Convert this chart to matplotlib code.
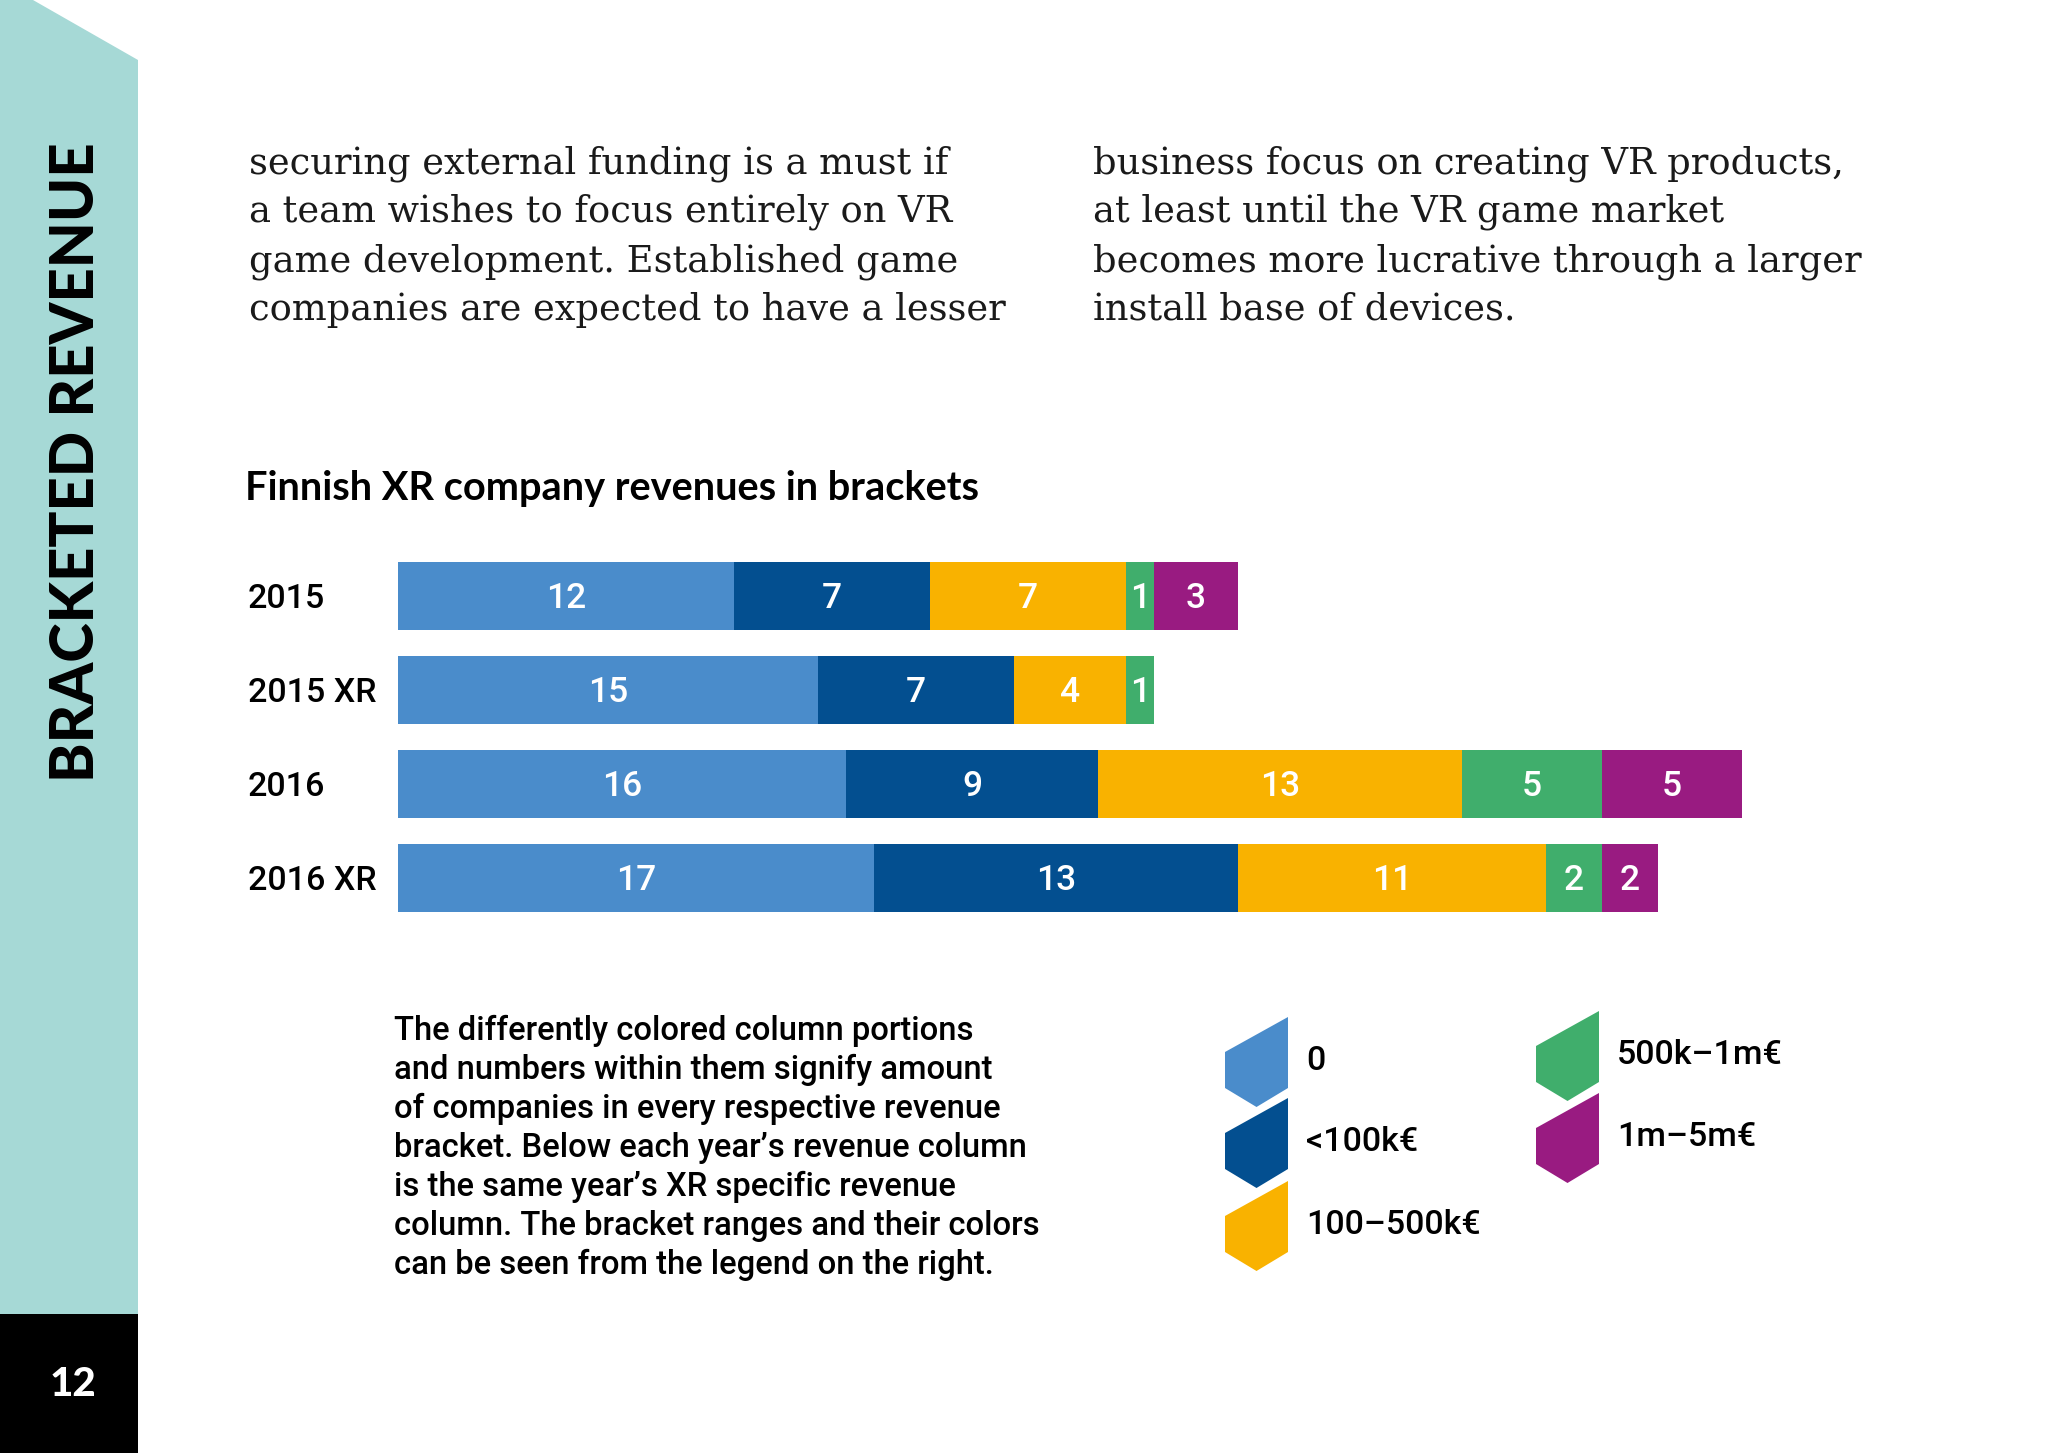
import matplotlib.pyplot as plt
from matplotlib.patches import Polygon, Rectangle

# --- data ---
years = ['2015', '2015 XR', '2016', '2016 XR']
brackets = ['0', '<100k€', '100–500k€', '500k–1m€', '1m–5m€']
rev_zero = [12, 15, 16, 17]
rev_under_100k = [7, 7, 9, 13]
rev_100k_500k = [7, 4, 13, 11]
rev_500k_1m = [1, 1, 5, 2]
rev_1m_5m = [3, 0, 5, 2]
colours = ['#4a8ccb', '#034f90', '#f9b200', '#40ae6c', '#991b81']

left_text = ['securing external funding is a must if',
             'a team wishes to focus entirely on VR',
             'game development. Established game',
             'companies are expected to have a lesser']
right_text = ['business focus on creating VR products,',
              'at least until the VR game market',
              'becomes more lucrative through a larger',
              'install base of devices.']
note_text = ['The differently colored column portions',
             'and numbers within them signify amount',
             'of companies in every respective revenue',
             'bracket. Below each year\u2019s revenue column',
             'is the same year\u2019s XR specific revenue',
             'column. The bracket ranges and their colors',
             'can be seen from the legend on the right.']

SANS = dict(family=['Roboto', 'DejaVu Sans'], fontweight='medium')
W, H = 2048, 1453

fig = plt.figure(figsize=(20.48, 14.53), dpi=100)
fig.patch.set_facecolor('white')

# page layer in pixel coords
bg = fig.add_axes([0, 0, 1, 1])
bg.set_xlim(0, W)
bg.set_ylim(H, 0)
bg.axis('off')

# sidebar
bg.add_patch(Polygon([(0, 0), (33, 0), (138, 60), (138, 1314), (0, 1314)],
                     closed=True, color='#a6d9d6', lw=0))
bg.add_patch(Rectangle((0, 1314), 138, 139, color='black', lw=0))
bg.text(76, 462, 'BRACKETED REVENUE', rotation=90, ha='center', va='center',
        family='Lato', fontweight='black', fontsize=43, color='black')
bg.text(73, 1384, '12', ha='center', va='center', family='Lato',
        fontweight='black', fontsize=29, color='white')

# body text
for i, line in enumerate(left_text):
    bg.text(249, 173 + 49 * i, line, ha='left', va='baseline',
            family='DejaVu Serif', fontsize=26.5, color='#1a1a1a')
for i, line in enumerate(right_text):
    bg.text(1093, 173 + 49 * i, line, ha='left', va='baseline',
            family='DejaVu Serif', fontsize=26.5, color='#1a1a1a')

bg.text(245, 500, 'Finnish XR company revenues in brackets', ha='left',
        va='baseline', family='Lato', fontweight='bold', fontsize=28.6)

for i, line in enumerate(note_text):
    bg.text(394, 1040 + 39 * i, line, ha='left', va='baseline',
            fontsize=23.6, color='black', **SANS)

# bar chart
ax = fig.add_axes([398 / W, 1 - 925 / H, 1344 / W, 376 / H])
ax.set_xlim(0, 48)
ax.set_ylim(3.5, -0.5)
ax.axis('off')

series = [rev_zero, rev_under_100k, rev_100k_500k, rev_500k_1m, rev_1m_5m]
left = [0] * len(years)
for vals, col in zip(series, colours):
    ax.barh(range(len(years)), vals, left=left, height=0.73, color=col, lw=0)
    for i, v in enumerate(vals):
        if v > 0:
            ax.text(left[i] + v / 2, i + 0.03, str(v), ha='center', va='center',
                    color='white', fontsize=25.5, **SANS)
    left = [a + b for a, b in zip(left, vals)]

for i, yr in enumerate(years):
    ax.text(-150 / 28, i + 0.03, yr, ha='left', va='center', color='black',
            fontsize=24.5, **SANS)

# legend
def hex_marker(x0, yt, col, w=63):
    pts = [(x0, yt + 35), (x0 + w, yt), (x0 + w, yt + 71),
           (x0 + w / 2, yt + 90), (x0, yt + 71)]
    bg.add_patch(Polygon(pts, closed=True, color=col, lw=0))

legend_pos = [(1225, 1017), (1225, 1098), (1225, 1181), (1536, 1011), (1536, 1093)]
for (x0, yt), col, lab in zip(legend_pos, colours, brackets):
    hex_marker(x0, yt, col)
    bg.text(x0 + 81, yt + 44, lab, ha='left', va='center', fontsize=24.5,
            color='black', **SANS)

fig.savefig('out.png', dpi=100, facecolor='white')
